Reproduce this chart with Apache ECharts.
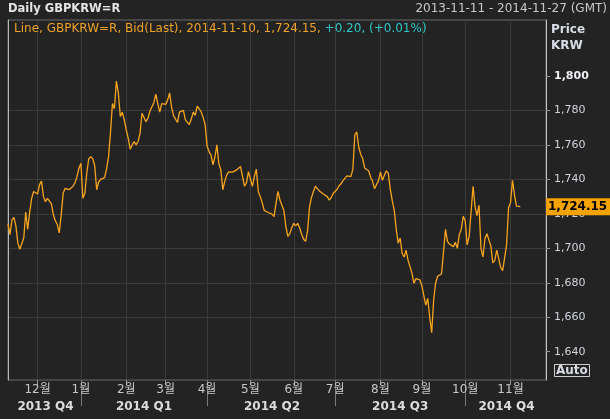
<!DOCTYPE html>
<html><head><meta charset="utf-8">
<script src="https://cdn.jsdelivr.net/npm/echarts@6/dist/echarts.min.js"></script>
<style>html,body{margin:0;padding:0;background:#232323;}#c{width:610px;height:419px;}</style>
</head><body><div id="c"></div>
<script>
const instrument = 'GBPKRW=R';
const startDate = '2013-11-11';
const endDate = '2014-11-27';
const monthLabels = ['1월','2월','3월','4월','5월','6월','7월','8월','9월','10월','11월','12월'];
const quarterLabels = ['2013 Q4','2014 Q1','2014 Q2','2014 Q3','2014 Q4'];
const yTicks = [1640,1660,1680,1700,1720,1740,1760,1780,1800];

const q4_2013 = [1714,1708,1716.5,1718,1713,1703,1699.5,1700,1706,1721,1711,1721,1729,1733,1732,1731.5,1737,1739,1730,1727,1729,1728.5,1726,1719.5,1716,1714,1709,1719.5,1732,1734.8,1734,1734,1733,1736,1738,1741.6,1746.5];
const q1_2014 = [1749.4,1729,1732,1744,1752,1753.2,1752,1748,1734,1738.5,1740,1739.3,1741,1746,1753,1767,1784,1781,1797,1790,1776.5,1779,1774.5,1768.7,1764,1757.5,1760,1762,1760,1762,1766.7,1778.4,1778.4,1773.5,1775.5,1779.5,1780.5,1784.5,1789.5,1784,1779,1784,1783.5,1783.5,1786,1790.2,1782,1777,1776,1773,1779,1779,1780,1774.5,1774,1771.8,1775,1779,1777.2,1782.5,1781,1779.3,1776,1772];
const q2_2014 = [1759.5,1756.1,1754.2,1748.5,1753,1760,1749,1745.5,1734,1739,1742.6,1744.3,1743.8,1744.2,1745,1745.5,1744.5,1747.5,1747.5,1736,1738,1744.5,1744,1736,1741.6,1746,1733,1730,1726.5,1722,1722.2,1720.8,1720.3,1719.8,1718.4,1726.1,1733,1728,1725,1722,1712.5,1707,1708.5,1712,1714.5,1713,1714.5,1711.8,1708.2,1705.3,1704,1710,1724,1729.5,1733,1736,1735.8,1733.3,1732.9,1731.5,1731.5,1730,1728,1729.5,1731.8];
const q3_2014 = [1732.5,1734.3,1736.3,1737.5,1739.3,1739.7,1742,1742.8,1741.6,1746,1766,1767.5,1758.5,1754.5,1752,1746.5,1746.4,1745,1741.3,1738.9,1734.6,1735.5,1739.3,1744.3,1739.5,1742.4,1745,1743.5,1734,1727.5,1722,1711,1703,1706,1697,1695,1699,1693,1689.4,1685.5,1679.7,1682.4,1683.3,1681.7,1678.2,1678,1667,1671,1660,1651,1670,1680,1683.8,1684.5,1685.2,1686,1711,1704,1702.5,1703,1701,1703.5,1700,1708,1711,1718.6];
const q4_2014 = [1716,1702,1706.8,1721.5,1736,1724,1719,1725,1700,1695,1705.5,1708.5,1708,1701.5,1691.5,1693,1699,1694,1689,1687,1686,1702,1723.5,1726.5,1739.5,1731,1724.5,1723.95,1724.15];

const FONT = '"DejaVu Sans","Noto Sans CJK KR",sans-serif';

function weekdays(s, e) {
  const out = [];
  const d = new Date(s + 'T00:00:00Z');
  const end = new Date(e + 'T00:00:00Z');
  while (d <= end) {
    const w = d.getUTCDay();
    if (w !== 0 && w !== 6) out.push(d.toISOString().slice(0, 10));
    d.setUTCDate(d.getUTCDate() + 1);
  }
  return out;
}
function fmt(v, dec) {
  const s = v.toFixed(dec);
  const parts = s.split('.');
  parts[0] = parts[0].replace(/\B(?=(\d{3})+(?!\d))/g, ',');
  return parts.join('.');
}

const dates = weekdays(startDate, endDate);
const values = [].concat(q4_2013, q1_2014, q2_2014, q3_2014, q4_2014);
const seriesData = dates.map((d, i) => (i < values.length ? values[i] : null));
const lastIdx = values.length - 1;
const lastVal = values[lastIdx];
const prevVal = values[lastIdx - 1];
const chg = lastVal - prevVal;
const pct = chg / prevVal * 100;

const monthStart = new Set();
const qStart = new Set();
for (let i = 1; i < dates.length; i++) {
  const m = dates[i].slice(5, 7), pm = dates[i - 1].slice(5, 7);
  if (m !== pm) {
    monthStart.add(i);
    if (['01', '04', '07', '10'].includes(m)) qStart.add(i);
  }
}
const qBounds = [0].concat(Array.from(qStart), [dates.length - 1]);
const qMidLabel = {};
for (let k = 0; k < qBounds.length - 1; k++) {
  qMidLabel[Math.round((qBounds[k] + qBounds[k + 1]) / 2)] = quarterLabels[k];
}

const legendText = '{o|Line, ' + instrument + ', Bid(Last), ' + dates[lastIdx] + ', ' + fmt(lastVal, 2) + ', }' +
  '{c|' + (chg >= 0 ? '+' : '') + fmt(chg, 2) + ', (' + (pct >= 0 ? '+' : '') + pct.toFixed(2) + '%)}';

const chart = echarts.init(document.getElementById('c'));
chart.setOption({
  backgroundColor: '#232323',
  animation: false,
  title: [
    { text: 'Daily ' + instrument, left: 8, top: 3, padding: 0,
      textStyle: { color: '#e4e4e4', fontSize: 11.5, fontWeight: 'bold', fontFamily: FONT } },
    { text: startDate + ' - ' + endDate + ' (GMT)', right: 3, top: 3, padding: 0,
      textStyle: { color: '#c8c8c8', fontSize: 12, fontWeight: 'normal', fontFamily: FONT } },
    { text: legendText, left: 14, top: 23, padding: 0,
      textStyle: { fontWeight: 'normal', rich: {
        o: { color: '#eea226', fontSize: 12, fontWeight: 'normal', fontFamily: FONT },
        c: { color: '#2fc6c6', fontSize: 12, fontWeight: 'normal', fontFamily: FONT } } } },
    { text: 'Price\nKRW', left: 551, top: 22, padding: 0,
      textStyle: { color: '#d8dce4', fontSize: 12, fontWeight: 'bold', lineHeight: 16, fontFamily: FONT } },
    { text: 'Auto', left: 554, top: 364, padding: [1, 2, 0, 2], borderColor: '#cfcfcf', borderWidth: 1,
      textStyle: { color: '#d8dce4', fontSize: 12, fontWeight: 'bold', fontFamily: FONT } }
  ],
  grid: [
    { left: 8, right: 64, top: 20, bottom: 39, show: true, backgroundColor: '#232323', borderColor: '#6a6a6a', borderWidth: 1 },
    { left: 8, right: 64, top: 7.06, bottom: 32.8 }
  ],
  xAxis: [
    { gridIndex: 0, type: 'category', data: dates, boundaryGap: false,
      axisLine: { show: false },
      axisTick: { show: true, interval: (i) => monthStart.has(i), length: 5, lineStyle: { color: '#9a9a9a' } },
      axisLabel: { interval: (i) => monthStart.has(i), formatter: (v) => monthLabels[+v.slice(5, 7) - 1],
        color: '#c8c8c8', fontSize: 12, fontFamily: FONT, margin: 4 },
      splitLine: { show: true, interval: (i) => monthStart.has(i), lineStyle: { color: '#3a3a3a', width: 1 } } },
    { gridIndex: 0, type: 'category', data: dates, boundaryGap: false, position: 'bottom', offset: 13,
      axisLine: { show: false },
      axisTick: { show: true, interval: (i) => qStart.has(i), length: 26, lineStyle: { color: '#7a7a7a' } },
      axisLabel: { interval: (i) => qMidLabel[i] !== undefined, formatter: (v, i) => qMidLabel[i] || '',
        color: '#dcdcdc', fontSize: 12, fontWeight: 'bold', fontFamily: FONT, margin: 8 },
      splitLine: { show: false } },
    { gridIndex: 1, type: 'category', data: dates, boundaryGap: false, show: false }
  ],
  yAxis: [
    { gridIndex: 0, type: 'value', min: 0, max: 1, position: 'left',
      axisLine: { show: true, lineStyle: { color: '#b8b8b8' } }, axisTick: { show: false }, axisLabel: { show: false }, splitLine: { show: false } },
    { gridIndex: 0, type: 'value', min: 0, max: 1, position: 'right',
      axisLine: { show: true, lineStyle: { color: '#c8c8c8' } }, axisTick: { show: false }, axisLabel: { show: false }, splitLine: { show: false } },
    { gridIndex: 1, type: 'value', position: 'right', min: 1620, max: 1840, interval: 20,
      axisLine: { show: false },
      axisTick: { show: true, length: 4, customValues: yTicks, lineStyle: { color: '#9a9a9a' } },
      axisLabel: { showMinLabel: false, showMaxLabel: false, margin: 8, color: '#d0d4dc', fontSize: 11, fontFamily: FONT,
        formatter: (v) => (yTicks.indexOf(v) < 0 ? '' : (v === 1800 ? '{b|' + fmt(v, 0) + '}' : fmt(v, 0))),
        rich: { b: { fontWeight: 'bold', color: '#eef0f4', fontSize: 11, fontFamily: FONT } } },
      splitLine: { show: true, showMinLine: false, showMaxLine: false, lineStyle: { color: '#3a3a3a', width: 1 } } }
  ],
  series: [{
    type: 'line', xAxisIndex: 2, yAxisIndex: 2, data: seriesData,
    showSymbol: false, symbol: 'none', connectNulls: false,
    lineStyle: { color: '#f7a41c', width: 1.3 },
    markLine: {
      silent: true, symbol: 'none', animation: false,
      data: [{ yAxis: lastVal }],
      lineStyle: { color: 'rgba(0,0,0,0)', width: 1, type: 'solid' },
      label: { show: true, position: 'end', distance: 0, formatter: fmt(lastVal, 2),
        backgroundColor: '#f5a300', color: '#000', fontWeight: 'bold', fontSize: 12, fontFamily: FONT, padding: [3, 6, 2, 2] }
    }
  }]
});
</script></body></html>
